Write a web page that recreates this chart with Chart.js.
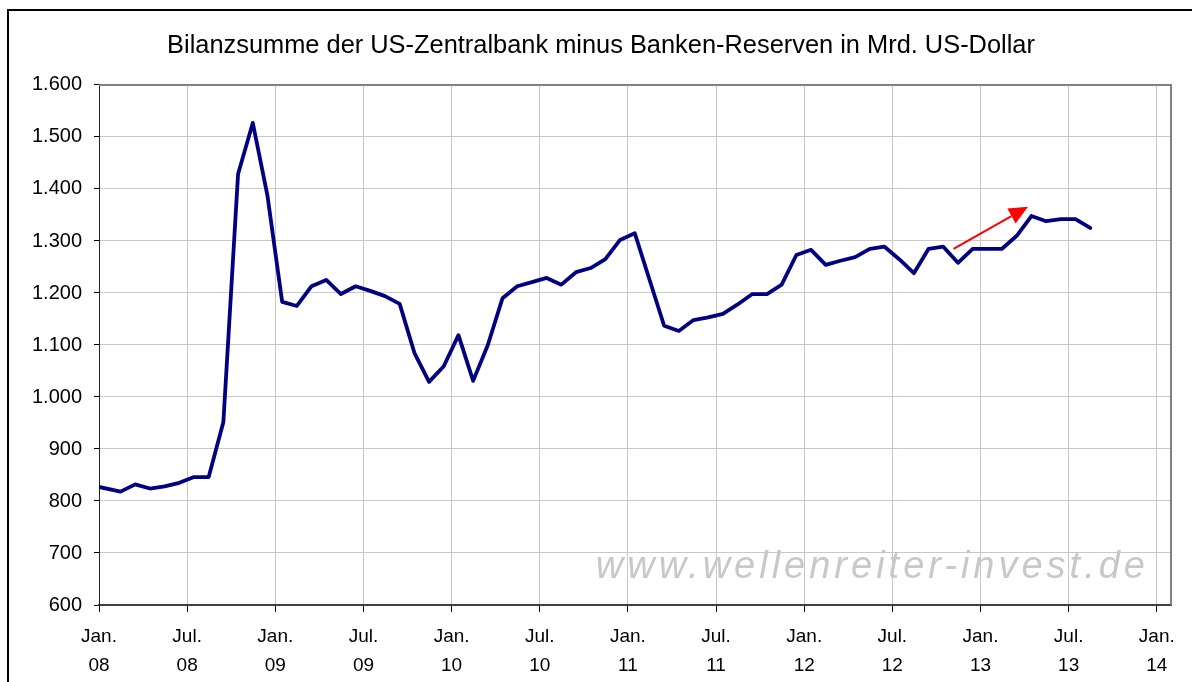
<!DOCTYPE html>
<html><head><meta charset="utf-8">
<style>html,body{margin:0;padding:0;background:#fff}</style>
<script src="https://cdn.jsdelivr.net/npm/chart.js@4.4.0/dist/chart.umd.min.js"></script>
</head><body>
<canvas id="c" width="1192" height="682" style="width:1192px;height:682px;display:block"></canvas>
<script>
const titleText = "Bilanzsumme der US-Zentralbank minus Banken-Reserven in Mrd. US-Dollar";
const watermarkText = "www.wellenreiter-invest.de";

// observation dates (first point at start of Jan 2008, then mid-month)
const dates = [
  "2008-01-01","2008-02-15","2008-03-15","2008-04-15","2008-05-15","2008-06-15","2008-07-15","2008-08-15","2008-09-15","2008-10-15","2008-11-15","2008-12-15",
  "2009-01-15","2009-02-15","2009-03-15","2009-04-15","2009-05-15","2009-06-15","2009-07-15","2009-08-15","2009-09-15","2009-10-15","2009-11-15","2009-12-15",
  "2010-01-15","2010-02-15","2010-03-15","2010-04-15","2010-05-15","2010-06-15","2010-07-15","2010-08-15","2010-09-15","2010-10-15","2010-11-15","2010-12-15",
  "2011-01-15","2011-02-15","2011-03-15","2011-04-15","2011-05-15","2011-06-15","2011-07-15","2011-08-15","2011-09-15","2011-10-15","2011-11-15","2011-12-15",
  "2012-01-15","2012-02-15","2012-03-15","2012-04-15","2012-05-15","2012-06-15","2012-07-15","2012-08-15","2012-09-15","2012-10-15","2012-11-15","2012-12-15",
  "2013-01-15","2013-02-15","2013-03-15","2013-04-15","2013-05-15","2013-06-15","2013-07-15","2013-08-15"
];
// Bilanzsumme minus Reserven, Mrd. USD
const values = [
  827, 818, 832, 824, 828, 835, 846, 846, 952, 1429, 1527, 1387,
  1183, 1175, 1213, 1225, 1198, 1213, 1204, 1194, 1179, 1085, 1029, 1059,
  1119, 1031, 1100, 1190, 1213, 1221, 1229, 1216, 1240, 1248, 1265, 1302,
  1315, 1226, 1137, 1127, 1148, 1153, 1160, 1178, 1198, 1198, 1216, 1273,
  1283, 1254, 1262, 1269, 1285, 1289, 1265, 1238, 1285, 1289, 1258, 1285,
  1285, 1285, 1310, 1348, 1338, 1342, 1342, 1325
];
const xTickDates = ["2008-01-01","2008-07-01","2009-01-01","2009-07-01","2010-01-01","2010-07-01","2011-01-01","2011-07-01","2012-01-01","2012-07-01","2013-01-01","2013-07-01","2014-01-01"];
const xTickLabels = [["Jan.","08"],["Jul.","08"],["Jan.","09"],["Jul.","09"],["Jan.","10"],["Jul.","10"],["Jan.","11"],["Jul.","11"],["Jan.","12"],["Jul.","12"],["Jan.","13"],["Jul.","13"],["Jan.","14"]];
const yMin = 600, yMax = 1600, yStep = 100;
const xAxisEnd = "2014-01-30";
// red trend arrow (date, value)
const arrowStart = ["2012-11-06", 1285];
const arrowEnd = ["2013-04-08", 1366];

function monthPos(s){ const [y,m,d] = s.split('-').map(Number); return (y-2008)*12 + (m-1) + (d-1)/30; }
function fmtDE(v){ return String(Math.round(v)).replace(/\B(?=(\d{3})+(?!\d))/g, '.'); }

const FONT = "'Liberation Sans', Arial, sans-serif";
const points = dates.map((d,i)=>({x: monthPos(d), y: values[i]}));

const decor = {
  id: 'decor',
  beforeDatasetsDraw(chart){
    const {ctx, chartArea:a} = chart;
    ctx.save();
    ctx.font = "italic 38px " + FONT;
    try { ctx.letterSpacing = "4px"; } catch(e){}
    ctx.fillStyle = "#c8c8c8";
    ctx.textAlign = "right";
    ctx.textBaseline = "alphabetic";
    ctx.fillText(watermarkText, a.right - 22, a.bottom - 27);
    ctx.restore();
  },
  afterDatasetsDraw(chart){
    const {ctx, chartArea:a, scales:{x,y}} = chart;
    ctx.save();
    // plot frame top/right
    ctx.strokeStyle = "#808080"; ctx.lineWidth = 2;
    ctx.beginPath(); ctx.moveTo(a.left, a.top); ctx.lineTo(a.right, a.top); ctx.lineTo(a.right, a.bottom); ctx.stroke();
    // arrow
    const x1 = x.getPixelForValue(monthPos(arrowStart[0])), y1 = y.getPixelForValue(arrowStart[1]);
    const x2 = x.getPixelForValue(monthPos(arrowEnd[0])), y2 = y.getPixelForValue(arrowEnd[1]);
    const ang = Math.atan2(y2-y1, x2-x1), L = 19, W = 8.5;
    const bx = x2 - L*Math.cos(ang), by = y2 - L*Math.sin(ang);
    ctx.strokeStyle = "#ff0000"; ctx.fillStyle = "#ff0000"; ctx.lineWidth = 2;
    ctx.beginPath(); ctx.moveTo(x1,y1); ctx.lineTo(bx,by); ctx.stroke();
    ctx.beginPath(); ctx.moveTo(x2,y2);
    ctx.lineTo(bx + W*Math.sin(ang), by - W*Math.cos(ang));
    ctx.lineTo(bx - W*Math.sin(ang), by + W*Math.cos(ang));
    ctx.closePath(); ctx.fill();
    ctx.restore();
  },
  afterDraw(chart){
    const ctx = chart.ctx;
    ctx.save();
    ctx.strokeStyle = "#000"; ctx.lineWidth = 2;
    ctx.beginPath(); ctx.moveTo(8, 700); ctx.lineTo(8, 10); ctx.lineTo(1200, 10); ctx.stroke();
    ctx.restore();
  }
};

new Chart(document.getElementById('c'), {
  type: 'line',
  data: { datasets: [{ data: points, borderColor: '#000080', borderWidth: 3.8, pointRadius: 0, tension: 0, fill: false, borderJoinStyle: 'round', borderCapStyle: 'round' }] },
  options: {
    responsive: false, animation: false, devicePixelRatio: 1,
    layout: { padding: { left: 31, right: 21, top: 12, bottom: 0 } },
    plugins: {
      legend: { display: false }, tooltip: { enabled: false },
      title: { display: true, text: titleText, color: '#000', font: { family: FONT, size: 25.4, weight: 'normal' }, padding: { top: 19, bottom: 23.5 } }
    },
    scales: {
      x: {
        type: 'linear', min: 0, max: monthPos(xAxisEnd),
        afterBuildTicks: s => { s.ticks = xTickDates.map(d => ({ value: monthPos(d) })); },
        afterFit: s => { s.height = 77; },
        ticks: { autoSkip: false, maxRotation: 0, color: '#000', padding: 11, font: { family: FONT, size: 19, lineHeight: 1.5 },
          callback: (v, i) => xTickLabels[i] },
        grid: { color: '#c8c8c8', lineWidth: 1, tickColor: '#000', tickLength: 7 },
        border: { color: '#404040', width: 2 }
      },
      y: {
        min: yMin, max: yMax,
        afterFit: s => { s.width = 68; },
        ticks: { stepSize: yStep, color: '#000', padding: 12, font: { family: FONT, size: 20 }, callback: v => fmtDE(v) },
        grid: { color: '#c8c8c8', lineWidth: 1, tickColor: '#000', tickLength: 5 },
        border: { color: '#202020', width: 1 }
      }
    }
  },
  plugins: [decor]
});
</script>
</body></html>
